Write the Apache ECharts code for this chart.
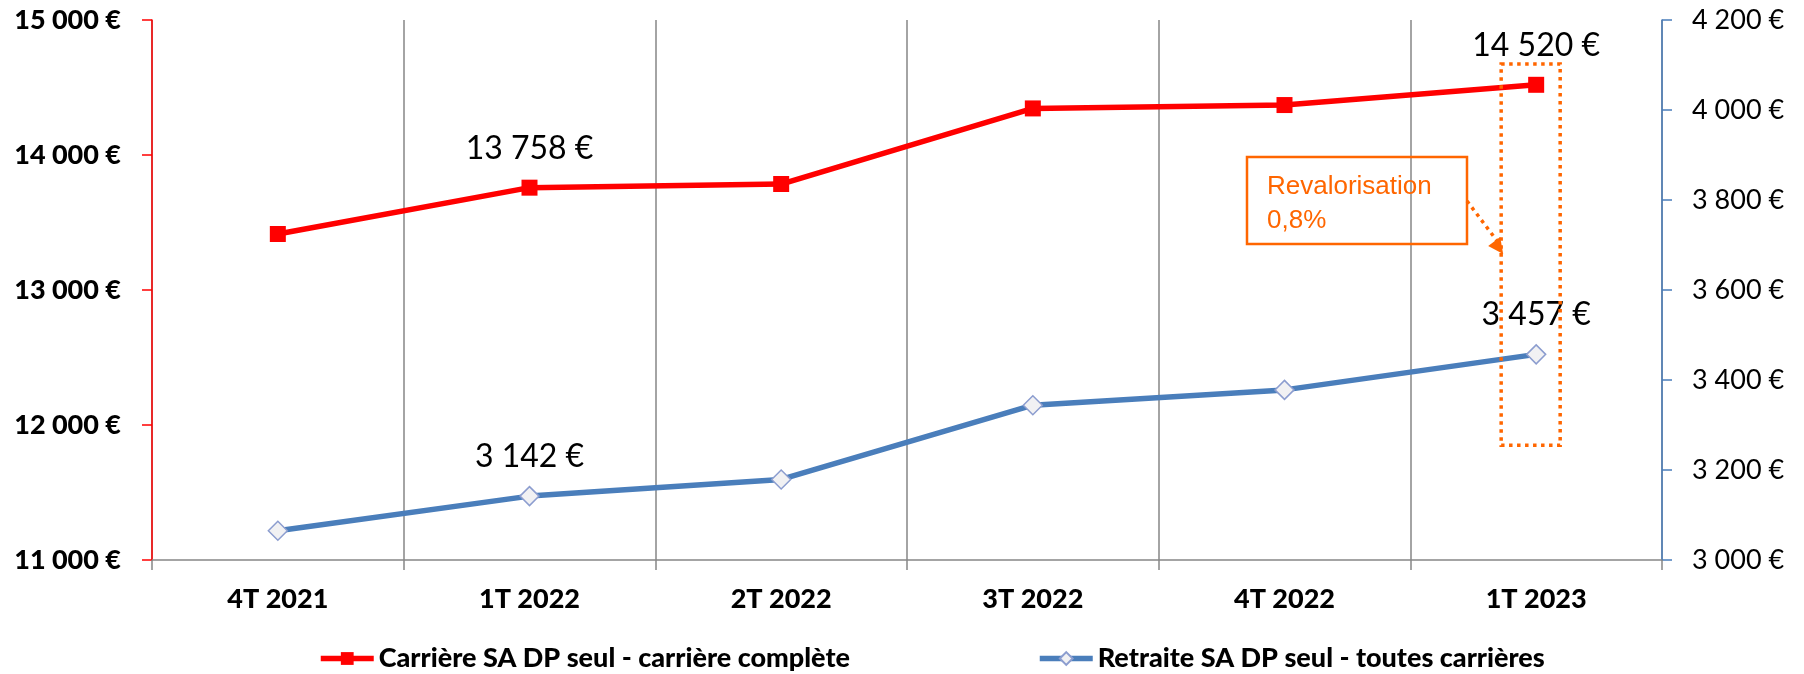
<!DOCTYPE html>
<html>
<head>
<meta charset="utf-8">
<script src="https://cdn.jsdelivr.net/npm/echarts@6/dist/echarts.min.js"></script>
<style>
  html, body { margin: 0; padding: 0; background: #ffffff; }
  #chart { width: 1804px; height: 674px; }
</style>
</head>
<body>
<div id="chart"></div>
<script>
// Quarterly series
const categories = ['4T 2021', '1T 2022', '2T 2022', '3T 2022', '4T 2022', '1T 2023'];
const carriereValues = [13415, 13758, 13785, 14345, 14370, 14520];
const retraiteValues = [3065, 3142, 3179, 3344, 3378, 3457];
const labelledIndexes = [1, 5];

const carriereName = 'Carrière SA DP seul - carrière complète';
const retraiteName = 'Retraite SA DP seul - toutes carrières';

// Axis ranges / ticks
const leftMin = 11000, leftMax = 15000, leftStep = 1000;
const rightMin = 3000, rightMax = 4200, rightStep = 200;

// Revaluation note and the range it frames
const noteLines = ['Revalorisation', '0,8%'];
const highlightCategory = '1T 2023';
const highlightTop = 14675;   // left axis value
const highlightBottom = 3255; // right axis value

const RED = '#ff0000';
const BLUE = '#4a7ebb';
const ORANGE = '#ff6600';
const GRAY = '#868686';
const FONT = 'Lato';
const HEAVY = 900;

function euro(v) {
  return String(v).replace(/\B(?=(\d{3})+(?!\d))/g, ' ') + ' €';
}

function withLabels(values, labelOpts) {
  return values.map((v, i) => labelledIndexes.includes(i)
    ? { value: v, label: Object.assign({ show: true }, labelOpts) }
    : v);
}

const valueLabel = {
  position: 'top',
  distance: 15,
  formatter: p => euro(p.value),
  fontFamily: FONT,
  fontSize: 32,
  color: '#000000'
};

const chart = echarts.init(document.getElementById('chart'), null, { renderer: 'canvas' });

const legendText = { fontFamily: FONT, fontWeight: HEAVY, fontSize: 27, color: '#000' };

const option = {
  animation: false,
  backgroundColor: '#ffffff',
  grid: { left: 152, right: 142, top: 20, bottom: 114, containLabel: false },
  legend: [
    {
      data: [carriereName],
      left: 313, top: 640,
      itemWidth: 53, itemHeight: 16, itemGap: 4,
      lineStyle: { width: 5.5 },
      textStyle: legendText
    },
    {
      data: [retraiteName],
      left: 1032, top: 640,
      itemWidth: 53, itemHeight: 16, itemGap: 4,
      lineStyle: { width: 5.5 },
      textStyle: legendText
    }
  ],
  xAxis: {
    type: 'category',
    data: categories,
    boundaryGap: true,
    axisLine: { lineStyle: { color: GRAY, width: 1.5 } },
    axisTick: { show: true, length: 10, lineStyle: { color: GRAY, width: 1.5 } },
    axisLabel: { fontFamily: FONT, fontWeight: HEAVY, fontSize: 27, color: '#000', margin: 26 },
    splitLine: { show: true, lineStyle: { color: GRAY, width: 1.5 } }
  },
  yAxis: [
    {
      type: 'value',
      position: 'left',
      min: leftMin, max: leftMax, interval: leftStep,
      axisLine: { show: true, lineStyle: { color: RED, width: 1.5 } },
      axisTick: { show: true, length: 10, lineStyle: { color: RED, width: 1.5 } },
      axisLabel: {
        formatter: euro, fontFamily: FONT, fontWeight: HEAVY, fontSize: 27,
        color: '#000', margin: 31
      },
      splitLine: { show: false }
    },
    {
      type: 'value',
      position: 'right',
      min: rightMin, max: rightMax, interval: rightStep,
      axisLine: { show: true, lineStyle: { color: BLUE, width: 1.5 } },
      axisTick: { show: true, length: 10, lineStyle: { color: BLUE, width: 1.5 } },
      axisLabel: {
        formatter: euro, fontFamily: FONT, fontSize: 27,
        color: '#000', margin: 30
      },
      splitLine: { show: false }
    }
  ],
  series: [
    {
      name: carriereName,
      type: 'line',
      yAxisIndex: 0,
      data: withLabels(carriereValues, valueLabel),
      symbol: 'rect',
      symbolSize: 16,
      showAllSymbol: true,
      lineStyle: { color: RED, width: 5.5 },
      itemStyle: { color: RED, borderWidth: 0 },
      z: 3
    },
    {
      name: retraiteName,
      type: 'line',
      yAxisIndex: 1,
      data: withLabels(retraiteValues, Object.assign({}, valueLabel, { distance: 13 })),
      symbol: 'diamond',
      symbolSize: 19,
      showAllSymbol: true,
      lineStyle: { color: BLUE, width: 5.5 },
      itemStyle: { color: '#f1f1f3', borderColor: '#8c9dcf', borderWidth: 1.5 },
      z: 3
    }
  ]
};

chart.setOption(option);

// Annotation: dotted frame around the last quarter and a note with an arrow
const cx = chart.convertToPixel({ xAxisIndex: 0 }, highlightCategory);
const yTop = chart.convertToPixel({ yAxisIndex: 0 }, highlightTop);
const yBottom = chart.convertToPixel({ yAxisIndex: 1 }, highlightBottom);
const frameLeft = cx - 35;
const frameRight = cx + 24;

const noteBox = { x: 1247, y: 157, w: 220, h: 87 };
const noteText = { fontFamily: 'Liberation Sans', fontSize: 26, fill: ORANGE, verticalAlign: 'top' };

chart.setOption({
  graphic: [
    {
      type: 'rect',
      z: 10,
      shape: { x: frameLeft, y: yTop, width: frameRight - frameLeft, height: yBottom - yTop },
      style: { fill: 'none', stroke: ORANGE, lineWidth: 3.5, lineDash: [3.5, 4.5] }
    },
    {
      type: 'rect',
      z: 10,
      shape: { x: noteBox.x, y: noteBox.y, width: noteBox.w, height: noteBox.h },
      style: { fill: 'none', stroke: ORANGE, lineWidth: 2.5 }
    },
    {
      type: 'text',
      z: 11,
      x: noteBox.x + 20,
      y: noteBox.y + 17,
      style: Object.assign({ text: noteLines[0] }, noteText)
    },
    {
      type: 'text',
      z: 11,
      x: noteBox.x + 20,
      y: noteBox.y + 51,
      style: Object.assign({ text: noteLines[1] }, noteText)
    },
    {
      type: 'line',
      z: 10,
      shape: { x1: noteBox.x + noteBox.w, y1: 201, x2: frameLeft - 4, y2: 241 },
      style: { stroke: ORANGE, lineWidth: 3.5, lineDash: [3.5, 4.5] }
    },
    {
      type: 'polygon',
      z: 10,
      shape: { points: [[frameLeft - 13, 246], [frameLeft - 1, 237], [frameLeft + 2, 254]] },
      style: { fill: ORANGE }
    }
  ]
});
</script>
</body>
</html>
